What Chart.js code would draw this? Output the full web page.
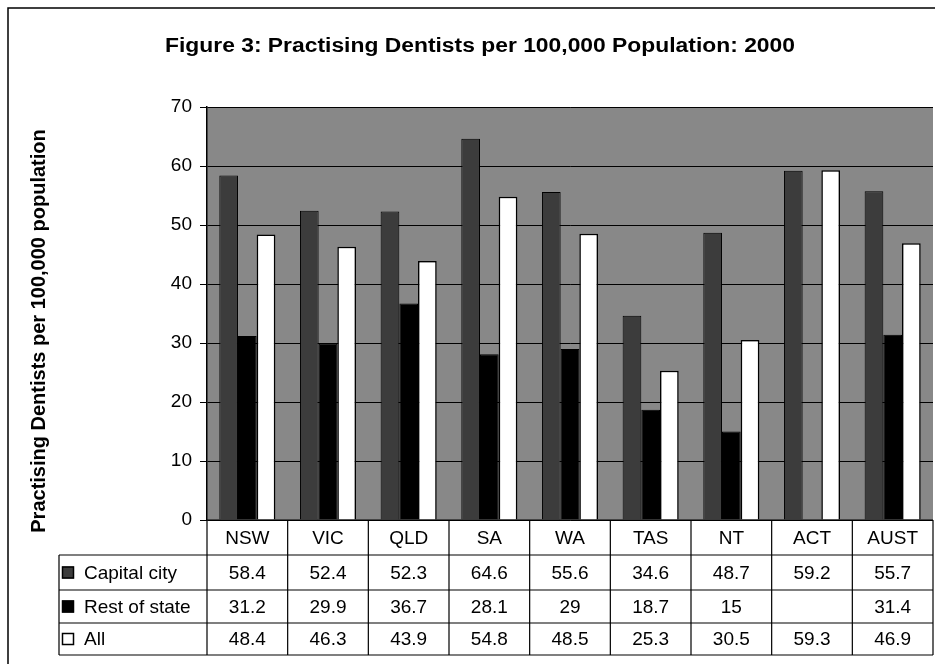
<!DOCTYPE html>
<html>
<head>
<meta charset="utf-8">
<title>Practising Dentists per 100,000 Population: 2000</title>
<script src="https://cdn.jsdelivr.net/npm/chart.js@4.4.1/dist/chart.umd.min.js"></script>
<style>
  body { margin: 0; background: #fff; }
  #wrap { width: 935px; height: 664px; }
</style>
</head>
<body>
<div id="wrap"><canvas id="dentist_chart" width="935" height="664"></canvas></div>
<script>
console.log("Running");

const chart_title = "Figure 3: Practising Dentists per 100,000 Population: 2000";
const y_title = "Practising Dentists per 100,000 population";

let states = ['NSW', 'VIC', 'QLD', 'SA', 'WA', 'TAS', 'NT', 'ACT', 'AUST']
let capital_city = [58.4, 52.4, 52.3, 64.6, 55.6, 34.6, 48.7, 59.2, 55.7]
let rest_of_state = [31.2, 29.9, 36.7, 28.1, 29, 18.7, 15, null, 31.4]
let all_areas = [48.4, 46.3, 43.9, 54.8, 48.5, 25.3, 30.5, 59.3, 46.9]
let y_ticks = [0, 10, 20, 30, 40, 50, 60, 70]

const FONT = '"Liberation Sans", Arial, sans-serif';
const PLOT_BG = '#888888';

// draws the grey plot area, titles, frame and the data table under the bars
const tablePlugin = {
    id: 'dataTable',
    beforeDraw(chart) {
        const ctx = chart.ctx;
        const a = chart.chartArea;
        ctx.save();
        ctx.fillStyle = PLOT_BG;
        ctx.fillRect(a.left, a.top, a.right - a.left, a.bottom - a.top);
        ctx.restore();
    },
    afterDraw(chart) {
        const ctx = chart.ctx;
        const a = chart.chartArea;
        const x = chart.scales.x;
        const n = states.length;
        const colW = (a.right - a.left) / n;

        ctx.save();
        ctx.fillStyle = '#000';
        ctx.strokeStyle = '#000';

        // outer frame (only top and left show)
        ctx.lineWidth = 1.5;
        ctx.beginPath();
        ctx.moveTo(8, 664);
        ctx.lineTo(8, 8);
        ctx.lineTo(935, 8);
        ctx.stroke();

        // title, stretched sideways like the scanned original
        ctx.save();
        ctx.font = 'bold 20px ' + FONT;
        ctx.textAlign = 'center';
        ctx.textBaseline = 'alphabetic';
        let tw = ctx.measureText(chart_title).width;
        ctx.translate(480, 52);
        ctx.scale(630 / tw, 1);
        ctx.fillText(chart_title, 0, 0);
        ctx.restore();

        // y axis title
        ctx.save();
        ctx.translate(45, 331);
        ctx.rotate(-Math.PI / 2);
        ctx.font = 'bold 20px ' + FONT;
        ctx.textAlign = 'center';
        ctx.fillText(y_title, 0, 0);
        ctx.restore();

        // table rows
        const rowTop = [a.bottom, a.bottom + 35, a.bottom + 70, a.bottom + 103]
        const rowBot = a.bottom + 135;
        const legLeft = 59;

        ctx.lineWidth = 1.2;
        ctx.beginPath();
        ctx.moveTo(a.left, rowTop[0]); ctx.lineTo(a.right, rowTop[0]);
        for (let r = 1; r < rowTop.length; r++) {
            ctx.moveTo(legLeft, rowTop[r]); ctx.lineTo(a.right, rowTop[r]);
        }
        ctx.moveTo(legLeft, rowBot); ctx.lineTo(a.right, rowBot);
        ctx.moveTo(legLeft, rowTop[1]); ctx.lineTo(legLeft, rowBot);
        for (let i = 0; i <= n; i++) {
            let xx = a.left + i * colW;
            ctx.moveTo(xx, rowTop[0]); ctx.lineTo(xx, rowBot);
        }
        ctx.stroke();

        // header labels + values
        ctx.font = '19px ' + FONT;
        ctx.textAlign = 'center';
        ctx.textBaseline = 'middle';
        const series = chart.data.datasets;
        for (let i = 0; i < n; i++) {
            let cx = x.getPixelForValue(i);
            ctx.fillText(states[i], cx, (rowTop[0] + rowTop[1]) / 2 + 1);
            for (let s = 0; s < series.length; s++) {
                let v = series[s].data[i];
                let y0 = rowTop[s + 1];
                let y1 = s + 2 < rowTop.length ? rowTop[s + 2] : rowBot;
                if (v !== null) ctx.fillText(String(v), cx, (y0 + y1) / 2 + 1);
            }
        }

        // legend keys
        ctx.textAlign = 'left';
        for (let s = 0; s < series.length; s++) {
            let y0 = rowTop[s + 1];
            let y1 = s + 2 < rowTop.length ? rowTop[s + 2] : rowBot;
            let cy = (y0 + y1) / 2;
            ctx.fillStyle = series[s].backgroundColor;
            ctx.fillRect(62, cy - 6, 12, 12);
            ctx.lineWidth = 1.5;
            ctx.strokeStyle = '#000';
            ctx.strokeRect(62.5, cy - 5.5, 11, 11);
            ctx.fillStyle = '#000';
            ctx.fillText(series[s].label, 84, cy + 1);
        }
        ctx.restore();
    }
};

const dentist_data = {
    labels: states,
    datasets: [
        {
            label: 'Capital city',
            data: capital_city,
            backgroundColor: '#3c3c3c',
            borderColor: '#000',
            borderWidth: 1
        }, {
            label: 'Rest of state',
            data: rest_of_state,
            backgroundColor: '#000000',
            borderColor: '#000',
            borderWidth: 1
        }, {
            label: 'All',
            data: all_areas,
            backgroundColor: '#ffffff',
            borderColor: '#000',
            borderWidth: 1.5
        }
    ]
};

const dentist_config = {
    type: 'bar',
    data: dentist_data,
    plugins: [tablePlugin],
    options: {
        responsive: false,
        animation: false,
        layout: {
            padding: { left: 100, right: 2, top: 107, bottom: 144 }
        },
        datasets: {
            bar: { barPercentage: 1.0, categoryPercentage: 0.695 }
        },
        plugins: {
            legend: { display: false },
            title: { display: false },
            tooltip: { enabled: false }
        },
        scales: {
            x: {
                display: false
            },
            y: {
                min: y_ticks[0],
                max: y_ticks[y_ticks.length - 1],
                afterFit: function (scale) { scale.width = 107; },
                afterBuildTicks: function (scale) {
                    scale.ticks = y_ticks.map(v => ({ value: v }));
                },
                ticks: {
                    color: '#000',
                    padding: 8,
                    font: { family: FONT, size: 19 }
                },
                grid: {
                    color: '#000',
                    lineWidth: 1,
                    drawTicks: true,
                    tickLength: 7,
                    tickColor: '#000'
                },
                border: { display: true, color: '#000', width: 1.5 }
            }
        }
    }
};

const dentist_chart = new Chart(
    document.getElementById('dentist_chart'),
    dentist_config
);
</script>
</body>
</html>
